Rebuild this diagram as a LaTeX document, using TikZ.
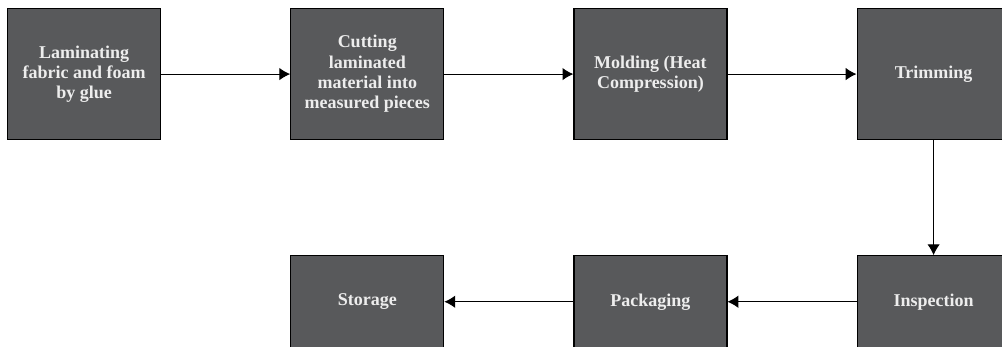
\documentclass[tikz,border=0pt]{standalone}
\usepackage{fontspec}
\setmainfont{Liberation Serif}
\usetikzlibrary{arrows.meta, positioning}
\definecolor{boxgrey}{RGB}{88,89,91}
\tikzstyle{stage} = [rectangle, minimum width=91.8pt, minimum height=78.6pt, draw=black, line width=0.7pt, fill=boxgrey, text=white!93!black, font=\fontsize{10.8}{12.2}\selectfont\bfseries, text centered, inner sep=0pt]
\tikzstyle{stagelow} = [stage, minimum height=55.2pt]
\tikzset{
	arrow/.style={line width=0.6pt, -{Latex[length=6.5pt,width=7.5pt]}}
}

\begin{document}
\begin{tikzpicture}[node distance=77.4pt]

		\clip (0,0) rectangle (601.2pt,-208.2pt);

		% Top row
		\node (laminate) [stage, anchor=north west] at (4.2pt,-4.8pt) {\parbox{90pt}{\centering Laminating \\ fabric and foam \\ by glue}};
		\node (cutting) [stage, right=of laminate] {\parbox{90pt}{\centering Cutting \\ laminated \\ material into \\ measured pieces}};
		\node (molding) [stage, right=of cutting] {\parbox{90pt}{\centering Molding (Heat \\ Compression)}};
		\node (trimming) [stage, right=of molding] {\parbox{90pt}{\centering Trimming}};

		% Bottom row
		\node (inspection) [stagelow, below=69pt of trimming] {\parbox{90pt}{\centering Inspection}};
		\node (packaging) [stagelow, left=of inspection] {\parbox{90pt}{\centering Packaging}};
		\node (storage) [stagelow, left=of packaging] {\parbox{90pt}{\centering Storage}};

		% Arrows
		\draw [arrow] (laminate) -- (cutting);
		\draw [arrow] (cutting) -- (molding);
		\draw [arrow] (molding) -- (trimming);
		\draw [arrow] (trimming) -- (inspection);
		\draw [arrow] (inspection) -- (packaging);
		\draw [arrow] (packaging) -- (storage);

\end{tikzpicture}
\end{document}
